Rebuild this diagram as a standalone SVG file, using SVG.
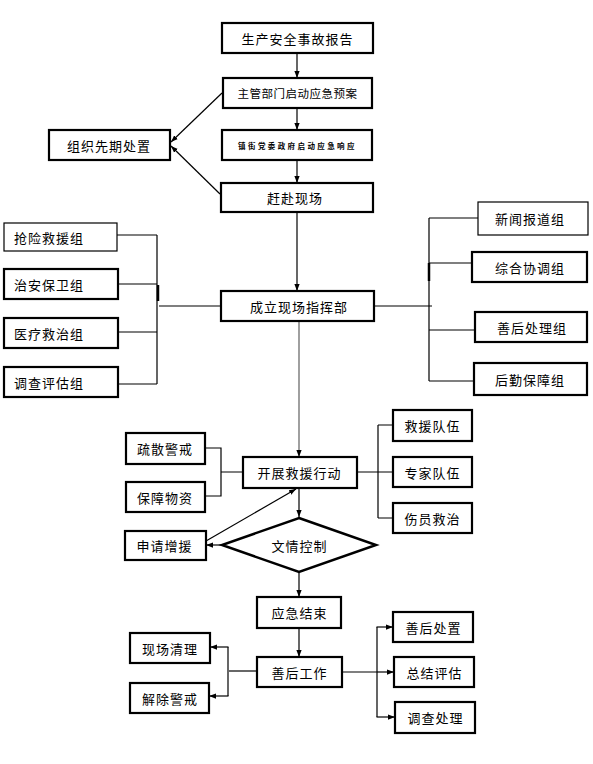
<svg xmlns="http://www.w3.org/2000/svg" width="593" height="764" viewBox="0 0 593 764">
<style>
.b{fill:#fff;stroke:#000;stroke-width:2.2}
.t{fill:#fff;stroke:#000;stroke-width:1.2}
.c{fill:none;stroke:#000;stroke-width:1.2}
.g{fill:none;stroke:#888;stroke-width:1.6}
text{font-family:"Noto Sans CJK SC","Liberation Sans",sans-serif;font-size:13px;fill:#000;dominant-baseline:central;text-anchor:middle;letter-spacing:1px}
.s{text-anchor:start}
</style>
<defs>
<marker id="a" viewBox="0 0 8 6" refX="8" refY="3" markerWidth="7" markerHeight="6" markerUnits="userSpaceOnUse" orient="auto">
<path d="M0,0 L8,3 L0,6 z" fill="#000"/>
</marker>
</defs>
<rect width="593" height="764" fill="#fff"/>
<g id="connectors">
<line class="c" x1="297" y1="53" x2="297" y2="78" marker-end="url(#a)"/>
<line class="c" x1="297" y1="108" x2="297" y2="130" marker-end="url(#a)"/>
<line class="c" x1="297" y1="160" x2="297" y2="183" marker-end="url(#a)"/>
<line class="c" x1="222" y1="93" x2="171" y2="142" marker-end="url(#a)"/>
<line class="c" x1="220" y1="194" x2="171" y2="146" marker-end="url(#a)"/>
<line class="c" x1="297" y1="212" x2="297" y2="291" marker-end="url(#a)"/>
<path class="c" d="M117,235 H157 M118,284 H157 M118,332 H157 M118,384 H157 M157,235 V384 M159,306 H221"/>
<line x1="158" y1="285" x2="158" y2="301" stroke="#000" stroke-width="2.5"/>
<path class="c" d="M429,218 H478 M429,263 H472 M429,330 H475 M429,381 H474 M429,218 V381 M374,306 H432"/>
<line x1="429" y1="263" x2="429" y2="281" stroke="#000" stroke-width="2.5"/>
<line class="g" x1="299" y1="321" x2="299" y2="457" marker-end="url(#a)"/>
<path class="c" d="M205,448 H221 V496 H205 M221,472 H243"/>
<path class="c" d="M357,472 H378 M378,425 V518 M378,425 H393 M378,472 H393 M378,518 H393"/>
<line class="c" x1="299" y1="488" x2="299" y2="517" marker-end="url(#a)"/>
<line class="c" x1="222" y1="545" x2="206" y2="545" marker-end="url(#a)"/>
<line class="c" x1="206" y1="541" x2="296" y2="489" marker-end="url(#a)"/>
<line class="c" x1="299" y1="572" x2="299" y2="597" marker-end="url(#a)"/>
<line class="c" x1="299" y1="628" x2="299" y2="657" marker-end="url(#a)"/>
<path class="c" d="M257,671 H229"/>
<path class="c" d="M228,647 V696"/>
<line class="c" x1="228.5" y1="647" x2="210" y2="647" marker-end="url(#a)"/>
<line class="c" x1="228.5" y1="696" x2="209" y2="696" marker-end="url(#a)"/>
<path class="c" d="M342,672 H377 M377,627 V717"/>
<line class="c" x1="376.5" y1="627" x2="393" y2="627" marker-end="url(#a)"/>
<line class="c" x1="377" y1="672" x2="394" y2="672" marker-end="url(#a)"/>
<line class="c" x1="376.5" y1="717" x2="395" y2="717" marker-end="url(#a)"/>
</g>
<g id="n1"><rect class="b" x="222" y="23" width="151" height="30"/><text x="297.5" y="38">生产安全事故报告</text></g>
<g id="n2"><rect class="b" x="223" y="78" width="149" height="30"/><text x="297.5" y="93" style="font-size:11.5px;letter-spacing:0.5px">主管部门启动应急预案</text></g>
<g id="n3"><rect class="b" x="222" y="130" width="150" height="30"/><text x="297.5" y="145" style="font-size:7.5px;letter-spacing:2.4px;font-weight:bold">镇街党委政府启动应急响应</text></g>
<g id="n4"><rect class="b" x="221" y="183" width="152" height="29"/><text x="295" y="197.5">赶赴现场</text></g>
<g id="n5"><rect class="b" x="49" y="130" width="121" height="30"/><text x="109" y="145">组织先期处置</text></g>
<g id="n6"><rect class="t" x="4" y="223" width="113" height="28"/><text class="s" x="14" y="237">抢险救援组</text></g>
<g id="n7"><rect class="b" x="4" y="269" width="114" height="30"/><text class="s" x="14" y="284">治安保卫组</text></g>
<g id="n8"><rect class="b" x="4" y="318" width="114" height="30"/><text class="s" x="14" y="333">医疗救治组</text></g>
<g id="n9"><rect class="b" x="4" y="367" width="114" height="30"/><text class="s" x="14" y="382">调查评估组</text></g>
<g id="n10"><rect class="b" x="221" y="291" width="153" height="30"/><text x="299" y="306">成立现场指挥部</text></g>
<g id="n11"><rect class="t" x="478" y="202" width="110" height="33"/><text class="s" x="495" y="218">新闻报道组</text></g>
<g id="n12"><rect class="b" x="472" y="252" width="115" height="30"/><text class="s" x="495" y="267">综合协调组</text></g>
<g id="n13"><rect class="b" x="475" y="312" width="112" height="30"/><text class="s" x="497" y="327">善后处理组</text></g>
<g id="n14"><rect class="b" x="474" y="363" width="113" height="32"/><text class="s" x="495" y="379">后勤保障组</text></g>
<g id="n15"><rect class="b" x="126" y="433" width="79" height="31"/><text x="165" y="448.5">疏散警戒</text></g>
<g id="n16"><rect class="b" x="126" y="482" width="79" height="30"/><text x="165" y="497">保障物资</text></g>
<g id="n17"><rect class="b" x="243" y="457" width="114" height="31"/><text x="299.5" y="472.5">开展救援行动</text></g>
<g id="n18"><rect class="b" x="393" y="410" width="79" height="31"/><text x="432.5" y="425.5">救援队伍</text></g>
<g id="n19"><rect class="b" x="393" y="457" width="79" height="30"/><text x="432.5" y="472">专家队伍</text></g>
<g id="n20"><rect class="b" x="393" y="503" width="79" height="30"/><text x="432.5" y="518">伤员救治</text></g>
<g id="n21"><polygon points="299,518 376,545 299,572 222,545" fill="#fff" stroke="#000" stroke-width="2.5"/><text x="299.5" y="545">文情控制</text></g>
<g id="n22"><rect class="b" x="125" y="531" width="81" height="29"/><text x="164.5" y="545.5">申请增援</text></g>
<g id="n23"><rect class="b" x="257" y="597" width="84" height="31"/><text x="299.5" y="612.5">应急结束</text></g>
<g id="n24"><rect class="b" x="257" y="657" width="85" height="30"/><text x="299.5" y="672">善后工作</text></g>
<g id="n25"><rect class="b" x="130" y="633" width="80" height="30"/><text x="170" y="648">现场清理</text></g>
<g id="n26"><rect class="b" x="130" y="683" width="79" height="30"/><text x="170" y="698">解除警戒</text></g>
<g id="n27"><rect class="b" x="393" y="612" width="80" height="30"/><text x="433.5" y="627">善后处置</text></g>
<g id="n28"><rect class="b" x="394" y="657" width="80" height="30"/><text x="434.5" y="672">总结评估</text></g>
<g id="n29"><rect class="b" x="395" y="702" width="80" height="31"/><text x="435.5" y="717.5">调查处理</text></g>
</svg>
